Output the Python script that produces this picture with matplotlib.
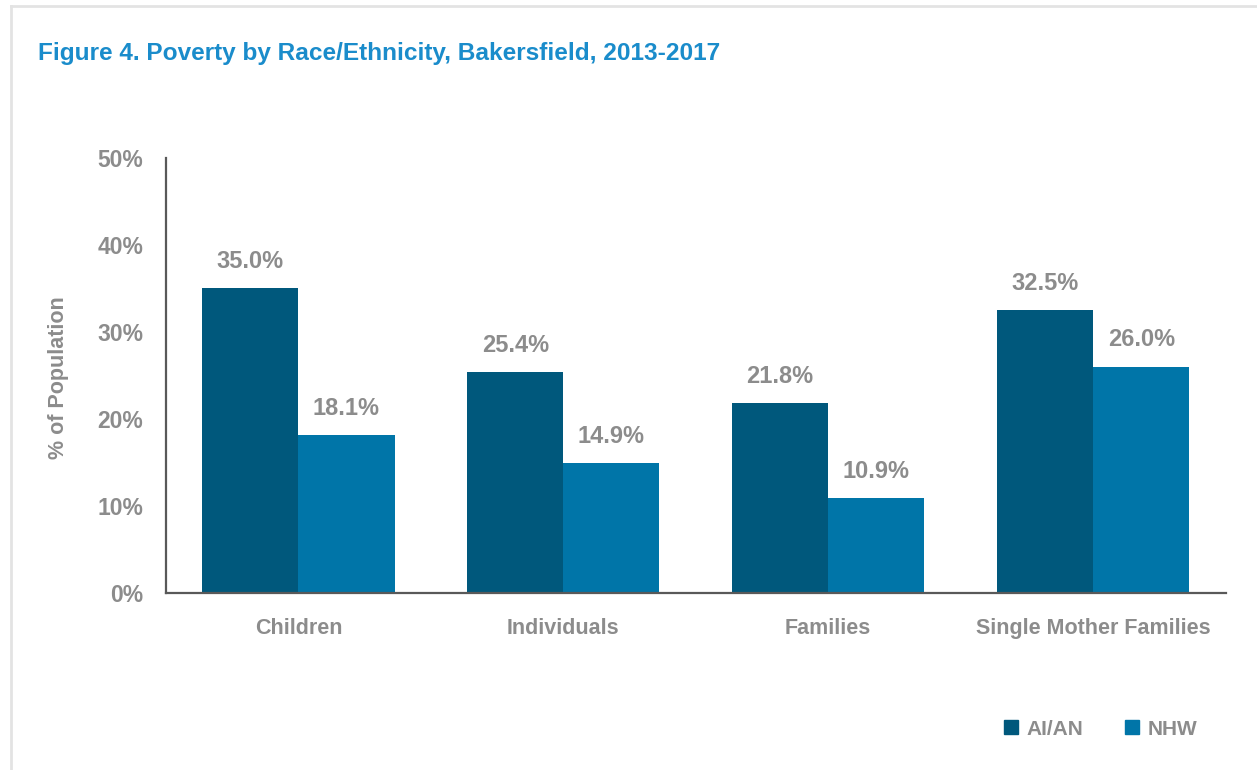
import numpy as np
import matplotlib
matplotlib.use("Agg")
import matplotlib.pyplot as plt
from matplotlib.lines import Line2D

categories = ["Children", "Individuals", "Families", "Single Mother Families"]
aian = [35.0, 25.4, 21.8, 32.5]
nhw = [18.1, 14.9, 10.9, 26.0]
series_names = ["AI/AN", "NHW"]
yticks = [0, 10, 20, 30, 40, 50]

plt.rcParams['font.family'] = ['Liberation Sans', 'DejaVu Sans']
plt.rcParams['font.weight'] = 'bold'

gray = "#8C8C8C"
dark = "#00587C"
light = "#0075A8"

fig = plt.figure(figsize=(12.57, 7.7), dpi=100)
ax = fig.add_axes([0.132, 0.23, 0.843, 0.565])

x = np.arange(len(categories))
w = 0.363
b1 = ax.bar(x - w / 2, aian, w, color=dark, label=series_names[0])
b2 = ax.bar(x + w / 2, nhw, w, color=light, label=series_names[1])

for bars in (b1, b2):
    ax.bar_label(bars, labels=[f"{v:.1f}%" for v in bars.datavalues], padding=11,
                 fontsize=17, color=gray, fontweight='bold')

ax.set_xlim(-0.5, len(categories) - 0.5)
ax.set_ylim(0, 50)
ax.set_yticks(yticks)
ax.set_yticklabels([f"{t}%" for t in yticks])
ax.set_xticks(x)
ax.set_xticklabels(categories)
ax.tick_params(axis='both', length=0, labelcolor=gray)
ax.tick_params(axis='y', pad=16.5, labelsize=16.5)
ax.tick_params(axis='x', pad=18, labelsize=15.5)
for lab in ax.get_xticklabels() + ax.get_yticklabels():
    lab.set_fontweight('bold')

for s in ("top", "right"):
    ax.spines[s].set_visible(False)
for s in ("left", "bottom"):
    ax.spines[s].set_color("#595959")
    ax.spines[s].set_linewidth(1.6)

fig.text(0.0462, 0.51, "% of Population", rotation=90, ha='center', va='center',
         fontsize=15.5, color=gray, fontweight='bold')

fig.text(0.030, 0.922, "Figure 4. Poverty by Race/Ethnicity, Bakersfield, 2013-2017",
         fontsize=17.6, color="#1A8CCB", fontweight='bold', ha='left', va='baseline')

handles = [Line2D([], [], marker='s', linestyle='none', markersize=9.5, color=c)
           for c in (dark, light)]
fig.legend(handles, series_names, loc='center left', bbox_to_anchor=(0.786, 0.053),
           ncol=2, frameon=False, labelcolor=gray, handlelength=0.8, handletextpad=0.35,
           columnspacing=1.95, borderpad=0.2, prop={'weight': 'bold', 'size': 15})

# light frame at top and left of the picture
fig.add_artist(Line2D([0.009, 1.0], [0.9925, 0.9925], color="#E3E3E3", linewidth=2))
fig.add_artist(Line2D([0.009, 0.009], [0.0, 0.9925], color="#E3E3E3", linewidth=2))

fig.savefig("out.png", dpi=100)
